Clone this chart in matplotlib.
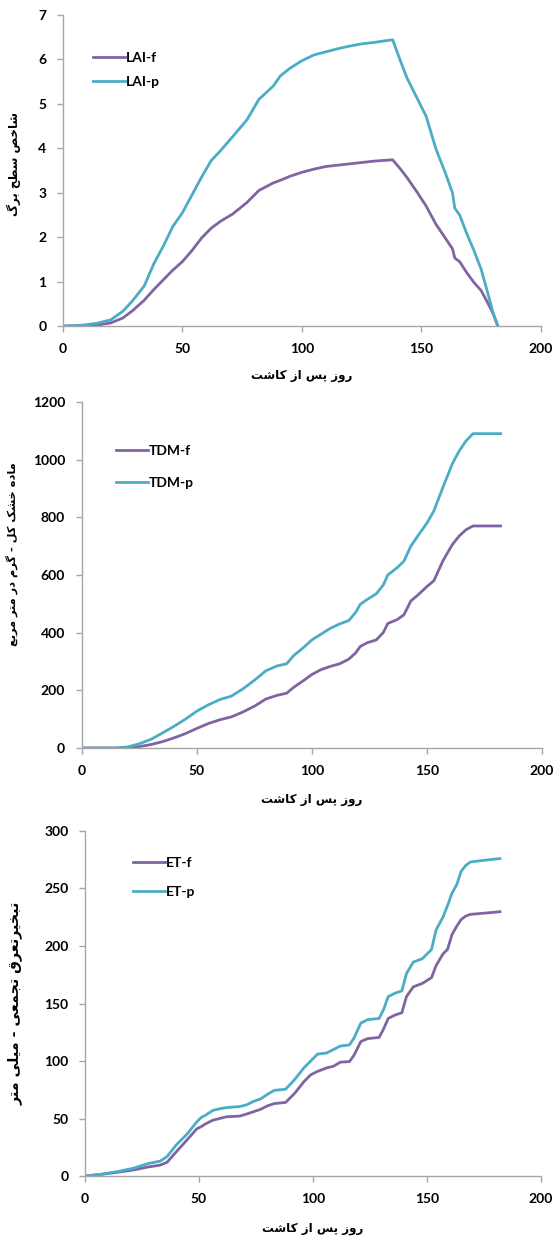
import numpy as np
import matplotlib
matplotlib.use("Agg")
import matplotlib.pyplot as plt
from matplotlib import font_manager

# ---- data ----
lai_days = [0, 8, 14, 20, 25, 29, 34, 38, 42, 46, 50, 54, 58, 62, 66, 71, 77, 82, 88, 91,
            95, 100, 105, 110, 115, 120, 125, 130, 135, 138, 141, 144, 148, 152, 156, 160,
            163, 164, 166, 169, 172, 175, 178, 180, 182]
lai_f = [0, 0.0, 0.02, 0.07, 0.18, 0.34, 0.58, 0.82, 1.04, 1.26, 1.45, 1.7, 1.98, 2.2, 2.36,
         2.52, 2.78, 3.05, 3.22, 3.28, 3.37, 3.46, 3.53, 3.59, 3.62, 3.65, 3.68, 3.71, 3.73,
         3.74, 3.55, 3.34, 3.03, 2.7, 2.3, 1.98, 1.74, 1.53, 1.45, 1.2, 0.98, 0.8, 0.5, 0.28, 0.0]
lai_p = [0, 0.02, 0.06, 0.14, 0.33, 0.56, 0.9, 1.4, 1.8, 2.24, 2.55, 2.95, 3.35, 3.72, 3.95,
         4.26, 4.64, 5.1, 5.4, 5.63, 5.8, 5.97, 6.1, 6.17, 6.24, 6.3, 6.35, 6.38, 6.42, 6.44,
         6.0, 5.58, 5.15, 4.72, 4.0, 3.45, 3.0, 2.65, 2.5, 2.08, 1.7, 1.28, 0.7, 0.3, 0.0]

tdm_days = [0, 15, 20, 25, 30, 35, 40, 45, 50, 55, 60, 65, 70, 75, 80, 85, 89, 92, 96, 100,
            104, 108, 112, 116, 119, 121, 124, 128, 131, 133, 137, 140, 143, 146, 150, 153,
            157, 161, 164, 167, 170, 182]
tdm_f = [0, 0, 1, 5, 12, 22, 35, 50, 68, 85, 98, 108, 125, 145, 170, 183, 190, 210, 232, 255,
         272, 283, 292, 308, 330, 352, 365, 375, 400, 432, 445, 462, 510, 530, 560, 580, 650,
         705, 735, 757, 770, 770]
tdm_p = [0, 0, 4, 15, 30, 52, 75, 100, 128, 150, 168, 180, 205, 235, 268, 285, 292, 320, 346,
         375, 395, 415, 430, 442, 470, 498, 515, 535, 565, 600, 625, 648, 700, 735, 780, 822,
         905, 985, 1030, 1065, 1090, 1090]

et_days = [0, 7, 14, 21, 28, 33, 36, 40, 45, 49, 51, 53, 56, 59, 62, 65, 68, 71, 74, 77, 80,
           83, 88, 92, 96, 99, 102, 106, 109, 112, 116, 118, 121, 124, 129, 131, 133, 136,
           139, 141, 144, 148, 152, 154, 157, 159, 161, 163, 165, 167, 169, 175, 182]
et_f = [0, 1.5, 3.2, 5.2, 8, 9.5, 12, 21, 32, 41, 43, 45.5, 48.5, 50, 51.5, 51.8, 52.2, 54, 56,
        58, 61, 63, 64, 72, 82, 88, 91, 94, 95.5, 99, 99.5, 105, 117, 119.5, 120.5, 128, 137,
        140, 142, 156, 164.5, 167.5, 172.5, 183, 193, 197, 210, 217, 223, 226, 227.5, 228.5,
        229.8]
et_p = [0, 1.5, 3.8, 6.7, 11, 13, 17, 27, 37, 47, 51, 53, 57, 58.5, 59.5, 60, 60.5, 62, 65, 67,
        71, 74.5, 75.5, 84, 94, 100, 106, 107, 110, 113, 114, 120, 133, 136, 137, 145, 156,
        159, 161, 176, 186, 189, 197, 214, 225, 235, 246, 253, 265, 270, 273, 274.5, 276]

xlabel = "روز پس از کاشت"
ylabels = ["شاخص سطح برگ", "ماده خشک کل - گرم در متر مربع", "تبخیرتعرق تجمعی - میلی متر"]

# Persian glyph shaping (iso, final, initial, medial)
FORMS = {
    'ا': (0xFE8D, 0xFE8E, None, None), 'ب': (0xFE8F, 0xFE90, 0xFE91, 0xFE92),
    'پ': (0xFB56, 0xFB57, 0xFB58, 0xFB59), 'ت': (0xFE95, 0xFE96, 0xFE97, 0xFE98),
    'ج': (0xFE9D, 0xFE9E, 0xFE9F, 0xFEA0), 'ح': (0xFEA1, 0xFEA2, 0xFEA3, 0xFEA4),
    'خ': (0xFEA5, 0xFEA6, 0xFEA7, 0xFEA8), 'د': (0xFEA9, 0xFEAA, None, None),
    'ر': (0xFEAD, 0xFEAE, None, None), 'ز': (0xFEAF, 0xFEB0, None, None),
    'س': (0xFEB1, 0xFEB2, 0xFEB3, 0xFEB4), 'ش': (0xFEB5, 0xFEB6, 0xFEB7, 0xFEB8),
    'ص': (0xFEB9, 0xFEBA, 0xFEBB, 0xFEBC), 'ط': (0xFEC1, 0xFEC2, 0xFEC3, 0xFEC4),
    'ع': (0xFEC9, 0xFECA, 0xFECB, 0xFECC), 'ق': (0xFED5, 0xFED6, 0xFED7, 0xFED8),
    'ل': (0xFEDD, 0xFEDE, 0xFEDF, 0xFEE0), 'م': (0xFEE1, 0xFEE2, 0xFEE3, 0xFEE4),
    'ن': (0xFEE5, 0xFEE6, 0xFEE7, 0xFEE8), 'ه': (0xFEE9, 0xFEEA, 0xFEEB, 0xFEEC),
    'و': (0xFEED, 0xFEEE, None, None), 'ک': (0xFB8E, 0xFB8F, 0xFB90, 0xFB91),
    'گ': (0xFB92, 0xFB93, 0xFB94, 0xFB95), 'ی': (0xFBFC, 0xFBFD, 0xFBFE, 0xFBFF),
}


def fa(s):
    out = []
    for i, c in enumerate(s):
        if c not in FORMS:
            out.append(c)
            continue
        prev = s[i - 1] if i > 0 else None
        nxt = s[i + 1] if i < len(s) - 1 else None
        jp = prev in FORMS and FORMS[prev][2] is not None
        jn = FORMS[c][2] is not None and nxt in FORMS
        iso, fin, ini, med = FORMS[c]
        if jp and jn:
            g = med
        elif jp:
            g = fin
        elif jn:
            g = ini
        else:
            g = iso
        out.append(chr(g))
    return "".join(reversed(out))


def bold_family(candidates):
    # first family that really ships a bold face
    for name in candidates:
        for fe in font_manager.fontManager.ttflist:
            w = fe.weight if isinstance(fe.weight, int) else 400
            if fe.name == name and (w >= 600 or "bold" in str(fe.weight).lower()):
                return name
    return "DejaVu Sans"


PURPLE = "#8064a2"
CYAN = "#4bacc6"
GRAY = "#a6a6a6"
LATIN = [bold_family(["Lato", "Open Sans", "Roboto", "Liberation Sans"]), "DejaVu Sans"]

fig = plt.figure(figsize=(5.57, 12.36), dpi=100)

panels = [
    # rect, days, f, p, names, ymax, yticks, legend anchor, labelspacing,
    # ylabel coords, ylabel size, xlabel y
    ([0.113, 0.7362, 0.858, 0.2517], lai_days, lai_f, lai_p, ("LAI-f", "LAI-p"),
     7, np.arange(0, 8, 1), (0.063, 0.880), 0.82, (-0.088, 0.52), 8.5, -0.138),
    ([0.147, 0.3948, 0.826, 0.280], tdm_days, tdm_f, tdm_p, ("TDM-f", "TDM-p"),
     1200, np.arange(0, 1201, 200), (0.074, 0.876), 1.45, (-0.139, 0.56), 8.2, -0.13),
    ([0.1526, 0.0485, 0.8186, 0.2792], et_days, et_f, et_p, ("ET-f", "ET-p"),
     300, np.arange(0, 301, 50), (0.105, 0.925), 1.2, (-0.136, 0.5), 10.3, -0.133),
]

for k, (rect, d, f, p, names, ymax, yt, anchor, lsp, ylc, yls, xly) in enumerate(panels):
    ax = fig.add_axes(rect)
    ax.plot(d, f, color=PURPLE, lw=2.0, label=names[0])
    ax.plot(d, p, color=CYAN, lw=2.0, label=names[1])
    ax.set_xlim(0, 200)
    ax.set_ylim(0, ymax)
    ax.set_xticks(np.arange(0, 201, 50))
    ax.set_yticks(yt)
    for s in ("top", "right"):
        ax.spines[s].set_visible(False)
    for s in ("left", "bottom"):
        ax.spines[s].set_color(GRAY)
        ax.spines[s].set_linewidth(1.0)
    ax.tick_params(axis="both", direction="out", length=4, width=1.0, color=GRAY)
    ax.tick_params(axis="x", pad=8)
    ax.tick_params(axis="y", pad=8)
    for lab in ax.get_xticklabels() + ax.get_yticklabels():
        lab.set_fontfamily(LATIN)
        lab.set_fontweight("bold")
        lab.set_fontsize(10)
    ax.set_ylabel(fa(ylabels[k]), family=["DejaVu Sans"], weight="bold", size=yls)
    ax.yaxis.set_label_coords(*ylc)
    ax.set_xlabel(fa(xlabel), family=["DejaVu Sans"], weight="bold", size=8.6)
    ax.xaxis.set_label_coords(0.5, xly)
    ax.legend(loc="upper left", bbox_to_anchor=anchor, frameon=False, borderpad=0,
              borderaxespad=0, handlelength=2.3, handletextpad=0.05, labelspacing=lsp,
              prop=dict(family=LATIN, weight="bold", size=10))

fig.savefig("out.png", dpi=100, facecolor="white")
